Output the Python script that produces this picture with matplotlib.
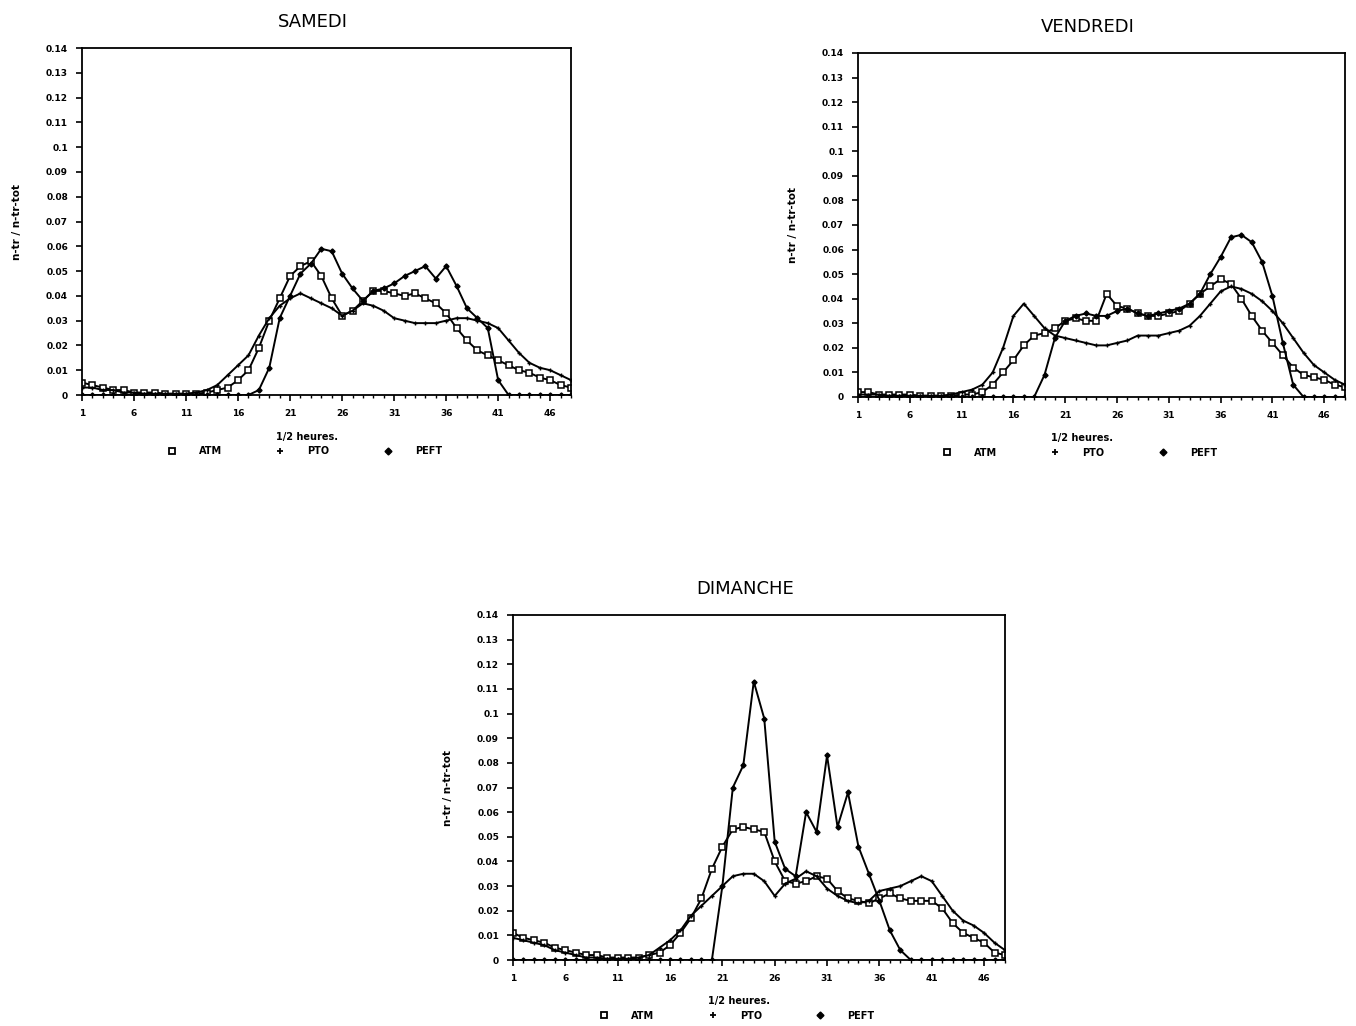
import matplotlib
matplotlib.use("Agg")
import matplotlib.pyplot as plt
from matplotlib.lines import Line2D

# half-hour slots
slots = list(range(1, 49))
y_ticks = [0, 0.01, 0.02, 0.03, 0.04, 0.05, 0.06, 0.07, 0.08, 0.09, 0.1, 0.11, 0.12, 0.13, 0.14]
x_ticks = [1, 6, 11, 16, 21, 26, 31, 36, 41, 46]

# SAMEDI
sam_atm = [0.005, 0.004, 0.003, 0.002, 0.002, 0.001, 0.001, 0.001, 0.0005, 0.0005, 0.0005, 0.0005,
           0.001, 0.002, 0.003, 0.006, 0.010, 0.019, 0.030, 0.039, 0.048, 0.052, 0.054, 0.048,
           0.039, 0.032, 0.034, 0.038, 0.042, 0.042, 0.041, 0.040, 0.041, 0.039, 0.037, 0.033,
           0.027, 0.022, 0.018, 0.016, 0.014, 0.012, 0.010, 0.009, 0.007, 0.006, 0.004, 0.003]
sam_pto = [0.003, 0.003, 0.002, 0.002, 0.001, 0.001, 0.0005, 0.0005, 0.0005, 0.0005, 0.0005, 0.001,
           0.002, 0.004, 0.008, 0.012, 0.016, 0.024, 0.031, 0.036, 0.039, 0.041, 0.039, 0.037,
           0.035, 0.032, 0.034, 0.037, 0.036, 0.034, 0.031, 0.030, 0.029, 0.029, 0.029, 0.030,
           0.031, 0.031, 0.030, 0.029, 0.027, 0.022, 0.017, 0.013, 0.011, 0.010, 0.008, 0.006]
sam_peft = [0, 0, 0, 0, 0, 0, 0, 0, 0, 0, 0, 0,
            0, 0, 0, 0, 0, 0.002, 0.011, 0.031, 0.040, 0.049, 0.053, 0.059,
            0.058, 0.049, 0.043, 0.038, 0.042, 0.043, 0.045, 0.048, 0.050, 0.052, 0.047, 0.052,
            0.044, 0.035, 0.031, 0.027, 0.006, 0, 0, 0, 0, 0, 0, 0]

# VENDREDI
ven_atm = [0.002, 0.002, 0.001, 0.001, 0.001, 0.001, 0.0005, 0.0005, 0.0005, 0.0005, 0.001, 0.001,
           0.002, 0.005, 0.010, 0.015, 0.021, 0.025, 0.026, 0.028, 0.031, 0.032, 0.031, 0.031,
           0.042, 0.037, 0.036, 0.034, 0.033, 0.033, 0.034, 0.035, 0.038, 0.042, 0.045, 0.048,
           0.046, 0.040, 0.033, 0.027, 0.022, 0.017, 0.012, 0.009, 0.008, 0.007, 0.005, 0.004]
ven_pto = [0.001, 0.001, 0.001, 0.0005, 0.0005, 0.0005, 0.0005, 0.0005, 0.0005, 0.001, 0.002, 0.003,
           0.005, 0.010, 0.020, 0.033, 0.038, 0.033, 0.028, 0.025, 0.024, 0.023, 0.022, 0.021,
           0.021, 0.022, 0.023, 0.025, 0.025, 0.025, 0.026, 0.027, 0.029, 0.033, 0.038, 0.043,
           0.045, 0.044, 0.042, 0.039, 0.035, 0.030, 0.024, 0.018, 0.013, 0.010, 0.007, 0.005]
ven_peft = [0, 0, 0, 0, 0, 0, 0, 0, 0, 0, 0, 0,
            0, 0, 0, 0, 0, 0, 0.009, 0.024, 0.031, 0.033, 0.034, 0.033,
            0.033, 0.035, 0.036, 0.034, 0.033, 0.034, 0.035, 0.036, 0.038, 0.042, 0.050, 0.057,
            0.065, 0.066, 0.063, 0.055, 0.041, 0.022, 0.005, 0, 0, 0, 0, 0]

# DIMANCHE
dim_atm = [0.011, 0.009, 0.008, 0.007, 0.005, 0.004, 0.003, 0.002, 0.002, 0.001, 0.001, 0.001,
           0.001, 0.002, 0.003, 0.006, 0.011, 0.017, 0.025, 0.037, 0.046, 0.053, 0.054, 0.053,
           0.052, 0.040, 0.032, 0.031, 0.032, 0.034, 0.033, 0.028, 0.025, 0.024, 0.023, 0.025,
           0.027, 0.025, 0.024, 0.024, 0.024, 0.021, 0.015, 0.011, 0.009, 0.007, 0.003, 0.002]
dim_pto = [0.009, 0.008, 0.007, 0.006, 0.004, 0.003, 0.002, 0.001, 0.001, 0.0005, 0.0005, 0.0005,
           0.001, 0.002, 0.005, 0.008, 0.012, 0.018, 0.022, 0.026, 0.030, 0.034, 0.035, 0.035,
           0.032, 0.026, 0.031, 0.033, 0.036, 0.034, 0.029, 0.026, 0.024, 0.023, 0.024, 0.028,
           0.029, 0.030, 0.032, 0.034, 0.032, 0.026, 0.020, 0.016, 0.014, 0.011, 0.007, 0.004]
dim_peft = [0, 0, 0, 0, 0, 0, 0, 0, 0, 0, 0, 0,
            0, 0, 0, 0, 0, 0, 0, 0, 0.030, 0.070, 0.079, 0.113,
            0.098, 0.048, 0.037, 0.034, 0.060, 0.052, 0.083, 0.054, 0.068, 0.046, 0.035, 0.024,
            0.012, 0.004, 0, 0, 0, 0, 0, 0, 0, 0, 0, 0]

panels = [
    ("SAMEDI", [82, 48, 571, 395], sam_atm, sam_pto, sam_peft),
    ("VENDREDI", [858, 53, 1345, 397], ven_atm, ven_pto, ven_peft),
    ("DIMANCHE", [513, 615, 1005, 960], dim_atm, dim_pto, dim_peft),
]

W, H = 1356, 1026
fig = plt.figure(figsize=(W / 100, H / 100), dpi=100)
tick_font = dict(fontsize=6.5, fontweight="bold", family="DejaVu Sans")

for title, (x0, y0, x1, y1), atm, pto, peft in panels:
    ax = fig.add_axes([x0 / W, 1 - y1 / H, (x1 - x0) / W, (y1 - y0) / H])
    ax.plot(slots, atm, color="black", lw=1.4, marker="s", ms=3.8, mfc="white", mec="black", mew=1.1)
    ax.plot(slots, pto, color="black", lw=1.4, marker="+", ms=3.5, mew=1.0)
    ax.plot(slots, peft, color="black", lw=1.4, marker="D", ms=2.6, mfc="black", mec="black")
    ax.set_xlim(1, 48)
    ax.set_ylim(0, 0.14)
    ax.set_xticks(x_ticks)
    ax.set_xticks(slots, minor=True)
    ax.set_xticklabels([str(t) for t in x_ticks], **tick_font)
    ax.set_yticks(y_ticks)
    ax.set_yticklabels(["%g" % v for v in y_ticks], **tick_font)
    ax.tick_params(axis="both", which="major", direction="out", length=4, width=1.2, pad=6)
    ax.tick_params(axis="x", which="minor", direction="out", length=2.5, width=1)
    for s in ax.spines.values():
        s.set_linewidth(1.3)
    ax.set_ylabel("n-tr / n-tr-tot", fontsize=7.5, fontweight="bold", labelpad=17)
    ax.text(0.46, -0.12, "1/2 heures.", transform=ax.transAxes, ha="center", va="center",
            fontsize=7, fontweight="bold")
    handles = [
        Line2D([], [], ls="none", marker="s", ms=5, mfc="white", mec="black", mew=1.3),
        Line2D([], [], ls="none", marker="+", ms=5, mec="black", mew=1.3),
        Line2D([], [], ls="none", marker="D", ms=3.5, mfc="black", mec="black"),
    ]
    ax.legend(handles, ["ATM", "PTO", "PEFT"], ncol=3, frameon=False, loc="center",
              bbox_to_anchor=(0.45, -0.162), prop=dict(size=7, weight="bold"),
              handletextpad=1.8, columnspacing=5.0, borderaxespad=0)
    fig.text(((x0 + x1) / 2 - 14) / W, 1 - (y0 - 26) / H, title, ha="center", va="center",
             fontsize=13, family="DejaVu Sans")

fig.savefig("out.png", dpi=100, facecolor="white")
